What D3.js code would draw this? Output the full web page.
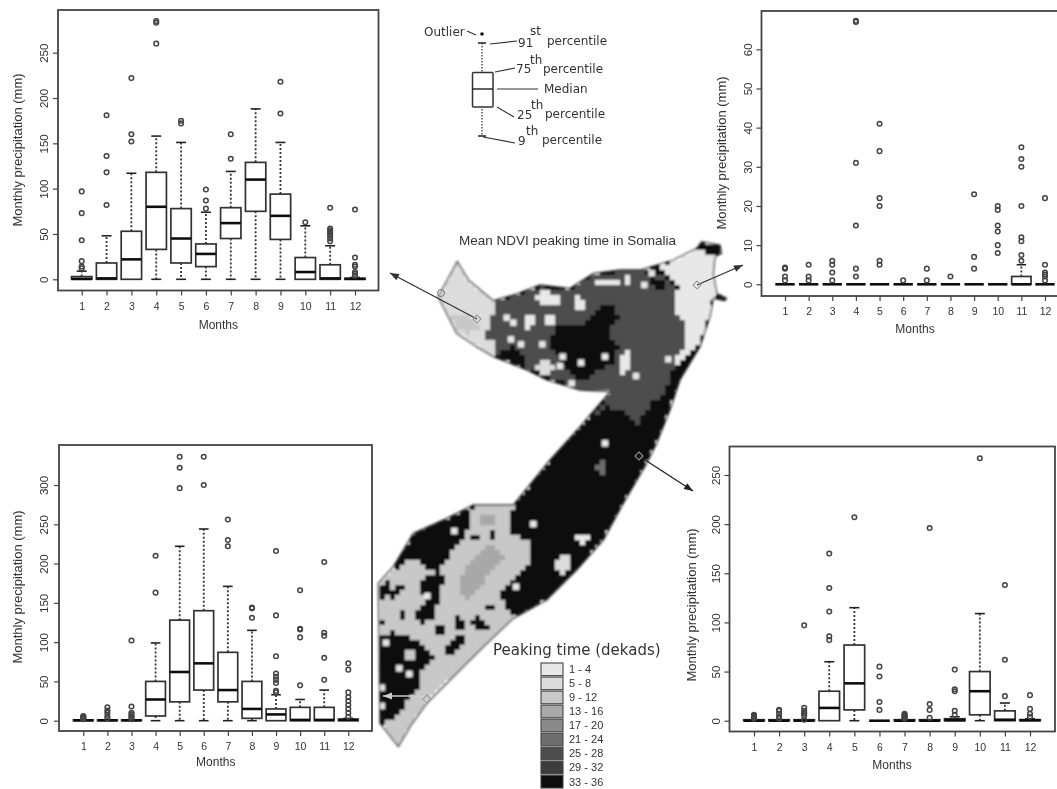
<!DOCTYPE html>
<html lang="en">
<head>
  <meta charset="UTF-8">
  <title>Mean NDVI peaking time in Somalia</title>
  <script src="https://d3js.org/d3.v7.min.js"></script>
  <style>
    body { margin: 0; background: #fff; }
    text { fill: #333; font-family: "Liberation Sans", Arial, sans-serif; }
    .key text { font-family: "DejaVu Sans", sans-serif; }
  </style>
</head>
<body>
<script>
  const months = [1, 2, 3, 4, 5, 6, 7, 8, 9, 10, 11, 12];

  // north-west station (top left)
  const nwLow = [0, 0, 0, 0, 0, 0, 0, 0, 0, 0, 0, 0];
  const nwQ1 = [0, 0, 0, 33, 18, 14, 45, 75, 44, 0, 0, 0];
  const nwMedian = [0.5, 1, 22, 80, 45, 28, 62, 110, 70, 8, 1, 0.5];
  const nwQ3 = [3, 18, 53, 118, 78, 39, 79, 129, 94, 24, 16, 1];
  const nwHigh = [9, 48, 117, 158, 151, 74, 119, 188, 151, 59, 37, 2];
  const nwOutliers = [
    [12, 14, 20, 43, 73, 97], [82, 118, 136, 181], [152, 160, 222], [260, 283, 285],
    [172, 175], [78, 87, 99], [133, 160], [], [183, 218], [63],
    [42, 45, 48, 50, 52, 54, 56, 79], [4, 6, 8, 14, 16, 24, 77]
  ];

  // north-east station (top right)
  const neLow = [0, 0, 0, 0, 0, 0, 0, 0, 0, 0, 0, 0];
  const neQ1 = [0, 0, 0, 0, 0, 0, 0, 0, 0, 0, 0, 0];
  const neMedian = [0, 0, 0, 0, 0, 0, 0, 0, 0, 0, 0, 0];
  const neQ3 = [0, 0, 0, 0, 0, 0, 0, 0, 0, 0, 2, 0];
  const neHigh = [0, 0, 0, 0, 0, 0, 0, 0, 0, 0, 5, 0];
  const neOutliers = [
    [1, 2, 4, 4.3], [1, 2, 5], [1, 3, 5, 6], [2, 4, 15, 31, 67, 67.3],
    [5, 6, 20, 22, 34, 41], [1], [1, 4], [2], [4, 7, 23],
    [8, 10, 13.5, 15, 19, 20], [6, 7.5, 11, 12, 20, 30, 32, 35], [1, 2, 2.5, 3, 5, 22]
  ];

  // south-west station (bottom left)
  const swLow = [0, 0, 0, 0, 0, 0, 0, 0, 0, 0, 0, 0];
  const swQ1 = [0, 0, 0, 6, 24, 39, 24, 3, 0, 0, 0, 0];
  const swMedian = [0.5, 0.5, 0.5, 27, 62, 73, 39, 15, 8, 1, 1, 1];
  const swQ3 = [1, 1, 1, 50, 128, 140, 87, 50, 15, 17, 17, 2];
  const swHigh = [1, 1, 1, 99, 222, 244, 171, 115, 33, 27, 39, 3];
  const swOutliers = [
    [2, 3, 4, 5, 6], [3, 6, 10, 13, 17], [2, 4, 6, 8, 10, 18, 102], [163, 210],
    [296, 322, 336], [300, 336], [222, 230, 256], [131, 143, 144],
    [36, 38, 48, 52, 56, 60, 82, 134, 216], [45, 106, 116, 117, 166],
    [52, 80, 108, 112, 202], [5, 10, 15, 20, 25, 30, 36, 65, 73]
  ];

  // south-east station (bottom right)
  const seLow = [0, 0, 0, 0, 0, 0, 0, 0, 0, 0, 0, 0];
  const seQ1 = [0, 0, 0, 0, 11, 0, 0, 0, 0, 6, 0, 0];
  const seMedian = [0, 0, 0, 13, 38, 0, 0, 0, 0.5, 30, 1, 0.5];
  const seQ3 = [1, 1, 1, 30, 77, 0, 1, 1, 2, 50, 10, 1];
  const seHigh = [1, 1, 1, 60, 115, 0, 1, 1, 4, 109, 18, 2];
  const seOutliers = [
    [2, 3, 4, 5, 6], [2, 4, 7, 10, 11], [1, 5, 7, 8, 10, 13, 97],
    [82, 86, 111, 135, 170], [207], [11, 19, 45, 55], [2, 3, 4, 5, 6, 7],
    [3, 11, 17, 196], [6, 10, 30, 32, 52], [267], [25, 62, 138], [4, 7, 12, 26]
  ];

  const legendLabels = ["1 - 4", "5 - 8", "9 - 12", "13 - 16", "17 - 20", "21 - 24", "25 - 28", "29 - 32", "33 - 36"];
  const legendGreys = ["#e8e8e8", "#dcdcdc", "#c8c8c8", "#a8a8a8", "#8a8a8a", "#6e6e6e", "#4e4e4e", "#3c3c3c", "#111111"];

  const svg = d3.select("body").append("svg")
    .attr("width", 1057)
    .attr("height", 789)
    .style("display", "block");

  const defs = svg.append("defs");
  defs.append("filter").attr("id", "soft")
    .attr("x", 0).attr("y", 0).attr("width", 1).attr("height", 1)
    .attr("filterUnits", "objectBoundingBox")
    .append("feGaussianBlur").attr("stdDeviation", 0.55);
  defs.append("filter").attr("id", "softer")
    .append("feGaussianBlur").attr("stdDeviation", 0.9);

  const root = svg.append("g").attr("filter", "url(#soft)");
  root.append("rect").attr("width", 1057).attr("height", 789).attr("fill", "#fff");

  // Box plots
  function drawPanel(box, yMax, yTicks, rows) {
    const x = d3.scaleLinear().domain([1, 12]).range([box.first, box.last]);
    const y = d3.scaleLinear().domain([0, yMax]).range([box.zero, box.topTick]);
    const step = x(2) - x(1);
    const g = root.append("g");

    g.append("g")
      .attr("transform", "translate(0," + box.bottom + ")")
      .call(d3.axisBottom(x).tickValues(months).tickSize(5).tickPadding(7).tickFormat(d3.format("d")))
      .call(a => a.select(".domain").remove());

    const left = g.append("g")
      .attr("transform", "translate(" + box.left + ",0)")
      .call(d3.axisLeft(y).tickValues(yTicks).tickSize(5).tickFormat(d3.format("d")))
      .call(a => a.select(".domain").remove());

    g.selectAll(".tick text").style("font-size", "10.5px").style("fill", "#333")
      .style("font-family", '"Liberation Sans", Arial, sans-serif');
    g.selectAll(".tick line").attr("stroke", "#444").attr("stroke-width", 1.2);

    left.selectAll("text")
      .attr("transform", "rotate(-90)")
      .attr("x", 0).attr("y", -box.tickGap).attr("dy", 0)
      .attr("text-anchor", "middle")
      .style("font-size", "11.5px");

    const items = g.selectAll("g.month").data(rows).join("g").attr("class", "month");
    const whisker = (sel, from, to) => sel.filter(d => d[to] !== d[from]).append("line")
      .attr("x1", d => x(d.month)).attr("x2", d => x(d.month))
      .attr("y1", d => y(d[from])).attr("y2", d => y(d[to]))
      .attr("stroke", "#333").attr("stroke-width", 1.8).attr("stroke-dasharray", "2,2");
    const cap = (sel, key, edge) => sel.filter(d => d[key] !== d[edge]).append("line")
      .attr("x1", d => x(d.month) - step * 0.2).attr("x2", d => x(d.month) + step * 0.2)
      .attr("y1", d => y(d[key])).attr("y2", d => y(d[key]))
      .attr("stroke", "#222").attr("stroke-width", 1.6);

    whisker(items, "q3", "high");
    whisker(items, "q1", "low");
    cap(items, "high", "q3");
    cap(items, "low", "q1");

    items.append("rect")
      .attr("x", d => x(d.month) - step * 0.41)
      .attr("width", step * 0.82)
      .attr("y", d => y(d.q3))
      .attr("height", d => y(d.q1) - y(d.q3))
      .attr("fill", "#fff").attr("stroke", "#333").attr("stroke-width", 1.7);
    items.append("line")
      .attr("x1", d => x(d.month) - step * 0.41).attr("x2", d => x(d.month) + step * 0.41)
      .attr("y1", d => y(d.median)).attr("y2", d => y(d.median))
      .attr("stroke", "#111").attr("stroke-width", 2.6);

    items.selectAll("circle").data(d => d.outliers.map(v => ({ month: d.month, v }))).join("circle")
      .attr("cx", d => x(d.month)).attr("cy", d => y(d.v)).attr("r", 2.3)
      .attr("fill", "none").attr("stroke", "#444").attr("stroke-width", 1.5);

    // frame
    g.append("rect")
      .attr("x", box.left).attr("y", box.top)
      .attr("width", box.right - box.left).attr("height", box.bottom - box.top)
      .attr("fill", "none").attr("stroke", "#444").attr("stroke-width", 1.8);

    g.append("text")
      .attr("transform", "translate(" + box.titleX + "," + box.titleY + ") rotate(-90)")
      .attr("text-anchor", "middle").attr("dy", "0.35em")
      .style("font-size", "13px")
      .text("Monthly precipitation (mm)");
    g.append("text")
      .attr("x", (box.first + box.last) / 2).attr("y", box.monthsY)
      .attr("text-anchor", "middle").attr("dy", "0.35em")
      .style("font-size", "12px")
      .text("Months");
  }

  function buildRows(low, q1, median, q3, high, outliers) {
    return months.map((month, i) => ({
      month, low: low[i], q1: q1[i], median: median[i], q3: q3[i], high: high[i], outliers: outliers[i]
    }));
  }

  drawPanel({ left: 58, right: 378.5, top: 10, bottom: 290.5, first: 81.7, last: 355, zero: 279.3, topTick: 52.7, tickGap: 10, titleX: 17, titleY: 150, monthsY: 325 },
    250, [0, 50, 100, 150, 200, 250], buildRows(nwLow, nwQ1, nwMedian, nwQ3, nwHigh, nwOutliers));
  drawPanel({ left: 761.5, right: 1062, top: 11, bottom: 296, first: 785, last: 1045, zero: 284.3, topTick: 49.3, tickGap: 10, titleX: 721, titleY: 153, monthsY: 329 },
    60, [0, 10, 20, 30, 40, 50, 60], buildRows(neLow, neQ1, neMedian, neQ3, neHigh, neOutliers));
  drawPanel({ left: 59, right: 372, top: 445, bottom: 731, first: 83.3, last: 348.3, zero: 720.7, topTick: 485, tickGap: 11, titleX: 17, titleY: 587, monthsY: 762 },
    300, [0, 50, 100, 150, 200, 250, 300], buildRows(swLow, swQ1, swMedian, swQ3, swHigh, swOutliers));
  drawPanel({ left: 729.5, right: 1055, top: 446.5, bottom: 731.5, first: 754, last: 1030, zero: 720.7, topTick: 475, tickGap: 10, titleX: 691, titleY: 605, monthsY: 765 },
    250, [0, 50, 100, 150, 200, 250], buildRows(seLow, seQ1, seMedian, seQ3, seHigh, seOutliers));

  // Explanatory box plot key
  const key = root.append("g").attr("class", "key");
  const keyLines = [[467, 31, 476, 35], [490, 44, 517, 41], [495, 72, 515, 68], [497, 89, 538, 89], [497, 107, 514, 117], [483, 137, 515, 143]];
  key.selectAll("line.lead").data(keyLines).join("line").attr("class", "lead")
    .attr("x1", d => d[0]).attr("y1", d => d[1]).attr("x2", d => d[2]).attr("y2", d => d[3])
    .attr("stroke", "#333").attr("stroke-width", 1.2);
  key.append("line").attr("x1", 482).attr("x2", 482).attr("y1", 43).attr("y2", 136)
    .attr("stroke", "#555").attr("stroke-width", 1.5).attr("stroke-dasharray", "1.5,1.5");
  key.append("rect").attr("x", 472.5).attr("y", 72.5).attr("width", 20.5).attr("height", 34.5)
    .attr("rx", 1).attr("fill", "#fff").attr("stroke", "#333").attr("stroke-width", 1.5);
  key.append("line").attr("x1", 472).attr("x2", 493).attr("y1", 89).attr("y2", 89)
    .attr("stroke", "#222").attr("stroke-width", 1.4);
  key.selectAll("line.cap").data([43, 136]).join("line").attr("class", "cap")
    .attr("x1", 478).attr("x2", 486).attr("y1", d => d).attr("y2", d => d)
    .attr("stroke", "#222").attr("stroke-width", 1.5);
  key.append("circle").attr("cx", 482).attr("cy", 34).attr("r", 1.8).attr("fill", "#111");

  const keyTexts = [
    ["Outlier", 424, 36], ["91", 518, 47], ["st", 530, 35], ["percentile", 547, 45],
    ["75", 516, 73], ["th", 530, 64], ["percentile", 543, 73],
    ["Median", 544, 93],
    ["25", 517, 119], ["th", 531, 109], ["percentile", 545, 118],
    ["9", 518, 145], ["th", 526, 135], ["percentile", 542, 144]
  ];
  key.selectAll("text").data(keyTexts).join("text")
    .attr("x", d => d[1]).attr("y", d => d[2])
    .style("font-size", "12px")
    .text(d => d[0]);

  root.append("text").attr("x", 567.5).attr("y", 245)
    .attr("text-anchor", "middle").style("font-size", "13.5px")
    .text("Mean NDVI peaking time in Somalia");

  // Map: outline and shade patches, in crop coordinates.
  // north patches come from the crop at (380,230), south ones from the crop at (370,460), both 3x.
  const northX = d3.scaleLinear().domain([0, 3]).range([380, 381]);
  const northY = d3.scaleLinear().domain([0, 3]).range([230, 231]);
  const southX = d3.scaleLinear().domain([0, 3]).range([370, 371]);
  const southY = d3.scaleLinear().domain([0, 3]).range([460, 461]);
  const north = pts => pts.map(p => [northX(p[0]), northY(p[1])]);
  const south = pts => pts.map(p => [southX(p[0]), southY(p[1])]);

  const outline = north([[232, 95], [265, 150], [340, 212], [400, 195], [480, 165], [570, 175], [640, 130], [720, 120], [780, 120], [880, 90], [950, 55], [965, 35], [1020, 45], [1025, 70], [1005, 80], [1000, 130], [1010, 190], [1040, 205], [1035, 212], [1000, 205], [990, 260], [960, 350], [900, 450], [870, 540], [830, 640], [800, 700]])
    .concat(south([[760, 130], [700, 240], [620, 330], [530, 420], [430, 475], [340, 560], [240, 660], [170, 730], [120, 800], [85, 860], [30, 790], [25, 370], [70, 320], [130, 220], [230, 175], [310, 135], [430, 135], [540, 0]]))
    .concat(north([[600, 590], [690, 485], [600, 480], [500, 450], [440, 420], [340, 380], [290, 350], [230, 310], [175, 200]]));

  // later patches paint over earlier ones; each is [shade index, polygon]
  const mapPatches = [
    [8, outline],
    // north
    [6, north([[340, 220], [400, 200], [480, 170], [570, 180], [640, 135], [720, 125], [790, 125], [850, 135], [895, 175], [880, 230], [915, 290], [910, 380], [880, 400], [870, 450], [850, 500], [810, 520], [775, 585], [720, 540], [680, 530], [640, 560], [690, 485], [600, 480], [520, 445], [440, 415], [345, 375], [340, 330], [310, 320], [330, 285], [345, 240]])],
    [8, north([[505, 340], [535, 285], [610, 285], [650, 235], [695, 228], [722, 260], [695, 290], [685, 320], [715, 350], [705, 405], [640, 425], [620, 455], [585, 445], [555, 410], [525, 372]])],
    [8, north([[800, 125], [860, 160], [850, 185], [810, 165]])],
    [8, north([[345, 375], [400, 350], [440, 390], [430, 415]])],
    [1, north([[232, 95], [265, 150], [340, 215], [345, 240], [330, 285], [310, 320], [340, 330], [345, 380], [290, 350], [230, 310], [175, 200]])],
    [2, north([[205, 260], [260, 245], [300, 290], [270, 310], [235, 300]])],
    [0, north([[840, 115], [950, 55], [1000, 80], [1000, 190], [985, 270], [960, 340], [900, 400], [885, 395], [910, 350], [915, 280], [880, 230], [880, 200], [895, 175], [850, 130]])],
    [8, north([[945, 45], [965, 35], [1020, 45], [1025, 72], [1005, 78], [960, 58]])],
    [8, north([[960, 350], [985, 280], [995, 265], [960, 410], [920, 470], [880, 490], [870, 440], [900, 400]])],
    [0, north([[465, 195], [495, 180], [545, 205], [530, 220], [490, 228]])],
    [0, north([[580, 205], [600, 190], [615, 225], [600, 250], [585, 240]])],
    [0, north([[430, 255], [460, 250], [460, 275], [445, 305], [430, 305]])],
    [0, north([[490, 262], [520, 255], [520, 285], [490, 285]])],
    [0, north([[645, 148], [720, 150], [715, 172], [650, 172]])],
    [0, north([[730, 135], [760, 150], [755, 165], [730, 165]])],
    [1, north([[460, 410], [490, 385], [520, 410], [515, 440], [480, 435]])],
    [0, north([[720, 385], [740, 360], [755, 380], [745, 420], [720, 440]])],
    // south
    [2, south([[310, 140], [430, 140], [415, 215], [475, 240], [475, 320], [395, 395], [400, 435], [440, 470], [340, 560], [240, 660], [170, 730], [120, 800], [85, 860], [30, 790], [28, 370], [70, 320], [100, 280], [140, 300], [175, 340], [210, 330], [240, 280], [280, 240], [300, 180]])],
    [3, south([[310, 290], [370, 250], [400, 290], [360, 340], [330, 380], [290, 420], [260, 390], [280, 340]])],
    [3, south([[335, 170], [380, 170], [380, 200], [335, 200]])],
    [8, south([[30, 530], [70, 515], [120, 530], [160, 560], [195, 590], [160, 620], [150, 680], [125, 710], [100, 740], [60, 785], [30, 790]])],
    [8, south([[30, 370], [60, 365], [50, 410], [30, 420]])],
    [8, south([[60, 395], [85, 370], [130, 368], [90, 395], [70, 420]])],
    [8, south([[145, 370], [200, 335], [222, 350], [205, 420], [195, 470], [145, 495], [140, 450], [170, 430]])],
    [8, south([[85, 450], [112, 445], [112, 490], [90, 480]])],
    [8, south([[30, 478], [52, 490], [30, 505]])],
    [8, south([[195, 505], [225, 495], [225, 525], [205, 525]])],
    [8, south([[245, 462], [275, 460], [280, 505], [258, 510]])],
    [8, south([[305, 480], [325, 470], [355, 505], [330, 510], [310, 505]])],
    [8, south([[232, 548], [270, 528], [292, 540], [260, 575], [220, 590]])],
    [8, south([[305, 225], [335, 225], [335, 242], [305, 240]])],
    [8, south([[355, 215], [375, 215], [375, 240], [355, 240]])],
    [8, south([[335, 435], [350, 430], [385, 445], [375, 462], [350, 445]])],
    [8, south([[70, 300], [110, 270], [120, 300], [85, 335]])],
    [0, south([[610, 228], [655, 220], [662, 245], [625, 250]])],
    [1, south([[565, 295], [595, 288], [602, 315], [575, 348], [558, 330]])],
    [2, south([[100, 565], [130, 565], [130, 605], [105, 605]])],
    [5, south([[680, 10], [700, 5], [705, 45], [685, 50]])]
  ];

  // small light cells scattered on the dark areas: [shade index, x, y]
  const northCells = [[0, 380, 263], [0, 400, 278], [0, 393, 328], [0, 423, 343], [0, 487, 343], [0, 548, 380], [0, 603, 398], [0, 540, 408], [0, 675, 380], [0, 865, 388], [0, 575, 460], [0, 768, 438], [0, 793, 165], [0, 815, 130], [0, 675, 640]];
  const southCells = [[0, 490, 192], [0, 438, 380], [0, 253, 213], [0, 48, 548], [0, 88, 625], [0, 118, 642], [0, 35, 683], [0, 35, 738], [0, 172, 408]];

  // map is rasterised the way the original grid is, one grey per cell
  const cell = 5;
  const mapG = root.append("g").attr("filter", "url(#softer)");
  const clip = defs.append("clipPath").attr("id", "country");
  clip.append("polygon").attr("points", outline.map(p => p.join(",")).join(" "));
  const paths = legendGreys.map(() => d3.path());
  d3.range(375, 730, cell).forEach(cx => {
    d3.range(235, 750, cell).forEach(cy => {
      const centre = [cx + cell / 2, cy + cell / 2];
      const hit = mapPatches.filter(p => d3.polygonContains(p[1], centre)).pop();
      if (hit) paths[hit[0]].rect(cx, cy, cell, cell);
    });
  });
  const inside = mapG.append("g").attr("clip-path", "url(#country)");
  inside.selectAll("path").data(paths).join("path")
    .attr("d", d => d.toString())
    .attr("fill", (d, i) => legendGreys[i])
    .attr("shape-rendering", "crispEdges");

  const cells = northCells.map(c => [c[0], northX(c[1]), northY(c[2])])
    .concat(southCells.map(c => [c[0], southX(c[1]), southY(c[2])]));
  inside.selectAll("rect").data(cells).join("rect")
    .attr("x", d => d[1] - 3.2).attr("y", d => d[2] - 3.2)
    .attr("width", 6.4).attr("height", 6.4)
    .attr("fill", d => legendGreys[d[0]]);
  mapG.append("polygon")
    .attr("points", outline.map(p => p.join(",")).join(" "))
    .attr("fill", "none").attr("stroke", "#333").attr("stroke-width", 1.3);

  // Arrows from the stations to their panels
  const arrowLines = [
    { from: [477, 319], to: [390, 273], colour: "#333" },
    { from: [697, 285], to: [743, 265], colour: "#333" },
    { from: [639, 456], to: [693, 491], colour: "#222" },
    { from: [426, 696], to: [383, 696], colour: "#ccc" }
  ];
  arrowLines.forEach(a => {
    const angle = Math.atan2(a.to[1] - a.from[1], a.to[0] - a.from[0]);
    root.append("line")
      .attr("x1", a.from[0]).attr("y1", a.from[1]).attr("x2", a.to[0]).attr("y2", a.to[1])
      .attr("stroke", a.colour).attr("stroke-width", 1.3);
    root.append("path")
      .attr("d", "M0,0L-9,-3.5L-9,3.5Z")
      .attr("transform", "translate(" + a.to[0] + "," + a.to[1] + ") rotate(" + angle * 180 / Math.PI + ")")
      .attr("fill", a.colour);
  });

  // station markers
  const diamonds = [[697, 285], [639, 456], [477, 319], [427, 699]];
  root.selectAll("path.station").data(diamonds).join("path").attr("class", "station")
    .attr("d", d3.symbol(d3.symbolSquare, 32))
    .attr("transform", d => "translate(" + d[0] + "," + d[1] + ") rotate(45)")
    .attr("fill", "none").attr("stroke", "#999").attr("stroke-width", 1.1);
  root.append("circle").attr("cx", 441).attr("cy", 293).attr("r", 3.5)
    .attr("fill", "none").attr("stroke", "#777").attr("stroke-width", 1);

  // Legend
  const legendY = d3.scaleBand().domain(legendLabels).range([663, 788]).paddingInner(0.1);
  const legend = root.append("g");
  legend.append("text").attr("x", 493).attr("y", 655)
    .style("font-size", "15px").style("font-family", '"DejaVu Sans", sans-serif')
    .text("Peaking time (dekads)");
  legend.selectAll("rect").data(legendLabels).join("rect")
    .attr("x", 541).attr("width", 22)
    .attr("y", d => legendY(d)).attr("height", legendY.bandwidth())
    .attr("fill", (d, i) => legendGreys[i])
    .attr("stroke", "#444").attr("stroke-width", 1.1);
  legend.selectAll("text.item").data(legendLabels).join("text").attr("class", "item")
    .attr("x", 569)
    .attr("y", d => legendY(d) + legendY.bandwidth() / 2)
    .attr("dy", "0.35em")
    .style("font-size", "11px")
    .text(d => d);
</script>
</body>
</html>
